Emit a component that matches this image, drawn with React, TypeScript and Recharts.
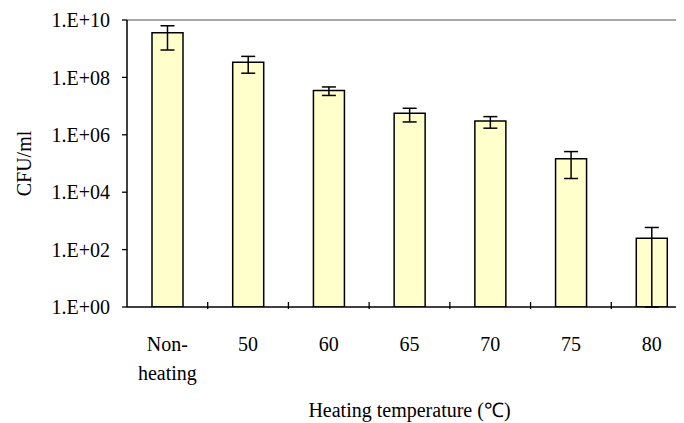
import React from 'react';
import { BarChart, Bar, XAxis, YAxis, ErrorBar, ReferenceLine } from 'recharts';

const categories = ['Non-\nheating', '50', '60', '65', '70', '75', '80'];
const cfuValues = [3.6e9, 3.4e8, 3.5e7, 5.6e6, 3.0e6, 1.45e5, 250];
const cfuSd = [2.7e9, 2.0e8, 1.15e7, 2.8e6, 1.3e6, 1.15e5, 340];
const yTicks = [1, 1e2, 1e4, 1e6, 1e8, 1e10];

const AXIS_MIN = 1;
const AXIS_MAX = 1e10;
const FONT = "'Liberation Serif', 'Times New Roman', serif";

// lower error clipped at the axis minimum (log scale can't go below it)
const data = categories.map((name, i) => ({
  name,
  cfu: cfuValues[i],
  err: [Math.min(cfuSd[i], cfuValues[i] - AXIS_MIN), cfuSd[i]],
}));

const formatExp = (v: number) =>
  '1.E+' + String(Math.round(Math.log10(v))).padStart(2, '0');

const CategoryTick = (props: any) => {
  const { x, y, payload, width, visibleTicksCount, index } = props;
  const half = payload.offset ?? width / visibleTicksCount / 2;
  const lines = String(payload.value).split('\n');
  return (
    <g>
      {index > 0 && (
        <line x1={x - half} x2={x - half} y1={y} y2={y - 7} stroke="#000" strokeWidth={1.3} />
      )}
      {lines.map((l, i) => (
        <text
          key={i}
          x={x}
          y={y + 35 + i * 29}
          textAnchor="middle"
          dominantBaseline="central"
          fontFamily={FONT}
          fontSize={20}
          fill="#000"
        >
          {l}
        </text>
      ))}
    </g>
  );
};

const App: React.FC = () => {
  return (
    <div style={{ width: 676, height: 415, overflow: 'hidden' }}>
      <BarChart
        width={700}
        height={415}
        data={data}
        margin={{ top: 12, right: 16, bottom: 0, left: 0 }}
      >
        <ReferenceLine y={AXIS_MAX} stroke="#888" strokeWidth={1.5} />
        <XAxis
          dataKey="name"
          height={116}
          tickSize={0}
          tickLine={false}
          interval={0}
          tick={<CategoryTick />}
          axisLine={{ stroke: '#000', strokeWidth: 1.5 }}
          label={{
            content: ({ viewBox }: any) => (
              <text
                x={viewBox.x + viewBox.width / 2}
                y={viewBox.y + 103}
                textAnchor="middle"
                dominantBaseline="central"
                fontFamily={FONT}
                fontSize={20}
                fill="#000"
              >
                Heating temperature (℃)
              </text>
            ),
          }}
        />
        <YAxis
          scale="log"
          domain={[AXIS_MIN, AXIS_MAX]}
          allowDataOverflow
          ticks={yTicks}
          interval={0}
          tickFormatter={formatExp}
          width={119}
          tickSize={5}
          tickMargin={12}
          tick={{ fontFamily: FONT, fontSize: 20, fill: '#000' }}
          tickLine={{ stroke: '#000', strokeWidth: 1.3 }}
          axisLine={{ stroke: '#000', strokeWidth: 1.5 }}
          label={{
            content: ({ viewBox }: any) => {
              const cx = viewBox.x + 16;
              const cy = viewBox.y + viewBox.height / 2;
              return (
                <text
                  x={cx}
                  y={cy}
                  transform={`rotate(-90, ${cx}, ${cy})`}
                  textAnchor="middle"
                  dominantBaseline="central"
                  fontFamily={FONT}
                  fontSize={20}
                  fill="#000"
                >
                  CFU/ml
                </text>
              );
            },
          }}
        />
        <Bar
          dataKey="cfu"
          fill="#FFFFCC"
          stroke="#000"
          strokeWidth={1.5}
          barSize={31}
          isAnimationActive={false}
        >
          <ErrorBar dataKey="err" width={7} stroke="#000" strokeWidth={1.5} direction="y" />
        </Bar>
      </BarChart>
    </div>
  );
};

export default App;
